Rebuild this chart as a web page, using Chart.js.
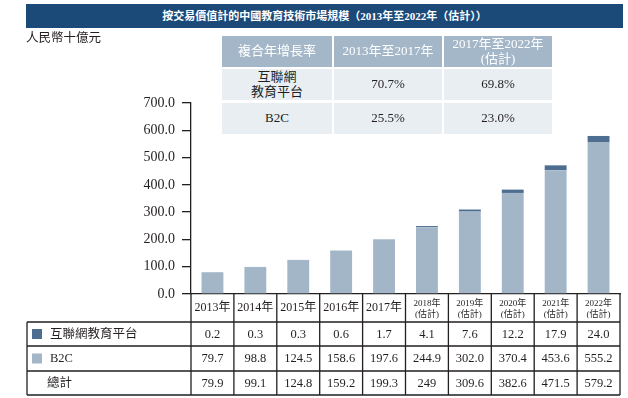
<!DOCTYPE html>
<html><head><meta charset="utf-8">
<script src="https://cdn.jsdelivr.net/npm/chart.js@4"></script>
<style>
html,body{margin:0;padding:0;background:#fff;}
body{width:628px;height:398px;position:relative;overflow:hidden;font-family:'Liberation Serif','Noto Sans CJK TC',serif;color:#231f20;}
#c{position:absolute;left:0;top:0;}
#title{position:absolute;left:26px;top:4px;width:597px;height:24px;background:#1c4a78;color:#fff;font-weight:bold;font-size:11px;line-height:24px;text-align:center;white-space:nowrap;}
#unit{position:absolute;left:26px;top:30px;font-size:12.5px;line-height:16px;}
.cg{position:absolute;display:flex;align-items:center;justify-content:center;text-align:center;font-size:13px;line-height:1.15;white-space:pre;}
.cgh{background:#a3b7c9;color:#fff;}
.cgb{background:#e8eef2;color:#231f20;}
</style></head>
<body>
<canvas id="c" width="628" height="398"></canvas>
<div id="title">按交易價值計的中國教育技術市場規模（2013年至2022年（估計））</div>
<div id="unit">人民幣十億元</div>
<div id="cagr"></div>
<script>
const categoryLabels = [['2013年'],['2014年'],['2015年'],['2016年'],['2017年'],
  ['2018年','(估計)'],['2019年','(估計)'],['2020年','(估計)'],['2021年','(估計)'],['2022年','(估計)']];
const seriesNames = ['互聯網教育平台','B2C','總計'];
const internetPlatform = [0.2,0.3,0.3,0.6,1.7,4.1,7.6,12.2,17.9,24.0];
const b2c = [79.7,98.8,124.5,158.6,197.6,244.9,302.0,370.4,453.6,555.2];
const totalLabels = ['79.9','99.1','124.8','159.2','199.3','249','309.6','382.6','471.5','579.2'];
const yMin = 0, yMax = 700, yStep = 100;
const cagrHeaders = ['複合年增長率','2013年至2017年','2017年至2022年\n(估計)'];
const cagrRows = [['互聯網\n教育平台','70.7%','69.8%'],['B2C','25.5%','23.0%']];

const COL_DARK = '#4d6e91', COL_LIGHT = '#a2b6c8', INK = '#231f20';
const FONT = "'Liberation Serif','Noto Sans CJK TC',serif";

// CAGR table (HTML)
(function(){
  const wrap = document.getElementById('cagr');
  const colX = [222,334,444], colW = [110,108,108];
  const rowY = [36,69,103], rowH = [31,31,31];
  const rows = [cagrHeaders].concat(cagrRows);
  rows.forEach((r,ri)=>{
    r.forEach((t,ci)=>{
      const d = document.createElement('div');
      d.className = 'cg ' + (ri===0?'cgh':'cgb');
      d.style.left = colX[ci]+'px'; d.style.top = rowY[ri]+'px';
      d.style.width = colW[ci]+'px'; d.style.height = rowH[ri]+'px';
      d.textContent = t;
      wrap.appendChild(d);
    });
  });
})();

const tablePlugin = {
  id:'dataTable',
  afterDraw(chart){
    const ctx = chart.ctx, ca = chart.chartArea, xs = chart.scales.x;
    const n = categoryLabels.length;
    const colW = (ca.right - ca.left)/n;
    const tblLeft = 27, top = ca.bottom;
    const rowLines = [322,346,371,395];
    ctx.save();
    ctx.strokeStyle = INK; ctx.lineWidth = 1.3;
    ctx.beginPath();
    rowLines.forEach(y=>{ctx.moveTo(tblLeft,y);ctx.lineTo(ca.right,y);});
    ctx.moveTo(tblLeft,rowLines[0]);ctx.lineTo(tblLeft,rowLines[3]);
    for(let i=0;i<=n;i++){const x=ca.left+i*colW;ctx.moveTo(x,top);ctx.lineTo(x,rowLines[3]);}
    ctx.stroke();
    const rowsData = [internetPlatform.map(v=>v.toFixed(1)), b2c.map(v=>v.toFixed(1)), totalLabels];
    ctx.fillStyle = INK; ctx.textAlign='center'; ctx.textBaseline='middle';
    ctx.font = '12.5px '+FONT;
    rowsData.forEach((row,ri)=>{
      const yc = (rowLines[ri]+rowLines[ri+1])/2+0.5;
      row.forEach((t,i)=>{ctx.fillText(t, xs.getPixelForValue(i), yc);});
    });
    // legend column
    const sw = [COL_DARK, COL_LIGHT, null];
    ctx.textAlign='left';
    ctx.font = '12.5px '+FONT;
    seriesNames.forEach((s,ri)=>{
      const yc = (rowLines[ri]+rowLines[ri+1])/2;
      if(sw[ri]){ctx.fillStyle=sw[ri];ctx.fillRect(32,yc-5,10,10);}
      ctx.fillStyle=INK;
      ctx.fillText(s, sw[ri]?50:47, yc+0.5);
    });
    ctx.restore();
  }
};

new Chart(document.getElementById('c'),{
  type:'bar',
  data:{
    labels:categoryLabels,
    datasets:[
      {label:seriesNames[1], data:b2c, backgroundColor:COL_LIGHT, barPercentage:0.51, categoryPercentage:1},
      {label:seriesNames[0], data:internetPlatform, backgroundColor:COL_DARK, barPercentage:0.51, categoryPercentage:1}
    ]
  },
  options:{
    responsive:false, animation:false, devicePixelRatio:1,
    layout:{padding:{top:103,right:8,left:0,bottom:0}},
    plugins:{legend:{display:false},tooltip:{enabled:false}},
    scales:{
      x:{stacked:true,
        grid:{display:false,drawTicks:false},
        border:{display:true,color:INK,width:1.3},
        afterFit(s){s.height=104;},
        ticks:{autoSkip:false,maxRotation:0,minRotation:0,padding:10,crossAlign:'center',color:INK,
          font:(c)=>({family:FONT,size:(c.index>=5?9:12),lineHeight:1.2})}
      },
      y:{stacked:true,min:yMin,max:yMax,
        afterFit(s){s.width=191;},
        grid:{drawOnChartArea:false,drawTicks:true,tickLength:9,color:INK,lineWidth:1.3},
        border:{display:true,color:INK,width:1.3},
        ticks:{stepSize:yStep,padding:7,color:INK,font:{family:FONT,size:14},
          callback:(v)=>Number(v).toFixed(1)}
      }
    }
  },
  plugins:[tablePlugin]
});
</script>
</body></html>
